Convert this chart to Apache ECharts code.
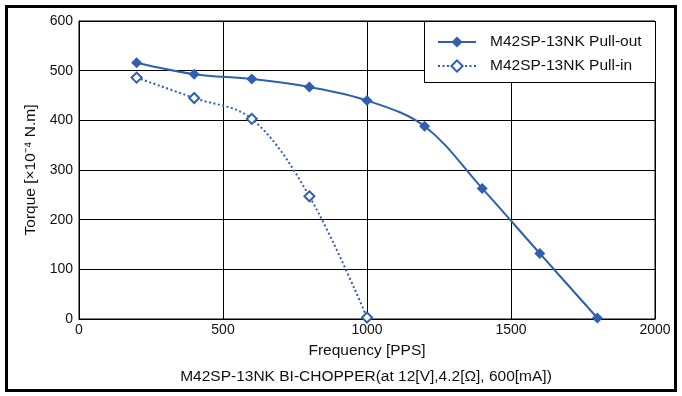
<!DOCTYPE html>
<html>
<head>
<meta charset="utf-8">
<script src="https://cdn.jsdelivr.net/npm/echarts@6/dist/echarts.min.js"></script>
<style>
  html, body { margin: 0; padding: 0; background: #fff; }
  #frame { position: absolute; left: 5px; top: 5px; width: 666px; height: 381px; border: 3px solid #000; }
  #main { position: absolute; left: 0; top: 0; width: 682px; height: 396px; }
</style>
</head>
<body>
<div id="frame"></div>
<div id="main"></div>
<script>
// frequency [PPS] and torque [x10^-4 N.m]
const pullOutFreq = [200, 400, 600, 800, 1000, 1200, 1400, 1600, 1800];
const pullOutTorque = [516, 493, 483, 467, 440, 388, 263, 132, 2];
const pullInFreq = [200, 400, 600, 800, 1000];
const pullInTorque = [486, 445, 403, 247, 3];

const blue = '#2f5fae';
const font = 'Liberation Sans, Arial, sans-serif';

const chart = echarts.init(document.getElementById('main'), null, { renderer: 'canvas' });

function pairs(xs, ys) {
  return xs.map((x, i) => [x, ys[i]]);
}

const option = {
  animation: false,
  textStyle: { fontFamily: font },
  grid: {
    left: 79, right: 27, top: 21, bottom: 77,
    show: true, borderColor: '#000', borderWidth: 1
  },
  title: {
    text: 'M42SP-13NK BI-CHOPPER(at 12[V],4.2[Ω], 600[mA])',
    left: 361, top: 364, textAlign: 'center',
    textStyle: { fontSize: 15.5, fontWeight: 'normal', color: '#111', fontFamily: font }
  },
  graphic: [{
    type: 'rect', z: 3,
    shape: { x: 424.5, y: 21.5, width: 231, height: 61 },
    style: { fill: '#fff', stroke: '#000', lineWidth: 1 }
  }],
  legend: {
    left: 424, top: 21,
    orient: 'vertical',
    padding: [13, 10, 12, 13],
    itemGap: 8,
    itemWidth: 38, itemHeight: 14,
    z: 5,
    textStyle: { fontSize: 15.5, color: '#111', fontFamily: font, padding: [0, 0, 0, 9] },
    data: ['M42SP-13NK Pull-out', 'M42SP-13NK Pull-in']
  },
  xAxis: {
    type: 'value', min: 0, max: 2000, interval: 500,
    name: 'Frequency [PPS]', nameLocation: 'middle', nameGap: 24,
    nameTextStyle: { fontSize: 15.5, color: '#111', fontFamily: font },
    axisLine: { lineStyle: { color: '#000', width: 1 } },
    axisTick: { show: false },
    axisLabel: { fontSize: 14, color: '#111', margin: 4, formatter: v => String(v) },
    splitLine: { lineStyle: { color: '#000', width: 1 } }
  },
  yAxis: {
    type: 'value', min: 0, max: 600, interval: 100,
    name: 'Torque [×10⁻⁴ N.m]', nameLocation: 'middle', nameGap: 31,
    nameTextStyle: { fontSize: 15.5, color: '#111', fontFamily: font },
    axisLine: { show: true, lineStyle: { color: '#000', width: 1 } },
    axisTick: { show: false },
    axisLabel: { fontSize: 14, color: '#111', margin: 6 },
    splitLine: { lineStyle: { color: '#000', width: 1 } }
  },
  series: [
    {
      name: 'M42SP-13NK Pull-out',
      type: 'line',
      smooth: 0.35,
      data: pairs(pullOutFreq, pullOutTorque),
      symbol: 'diamond', symbolSize: 11,
      itemStyle: { color: blue },
      lineStyle: { color: blue, width: 2 },
      z: 2
    },
    {
      name: 'M42SP-13NK Pull-in',
      type: 'line',
      smooth: 0.35,
      data: pairs(pullInFreq, pullInTorque),
      symbol: 'emptyDiamond', symbolSize: 10,
      itemStyle: { color: blue, borderWidth: 1.3 },
      lineStyle: { color: blue, width: 2, type: [2, 2.5] },
      z: 2
    }
  ]
};

chart.setOption(option);
</script>
</body>
</html>
